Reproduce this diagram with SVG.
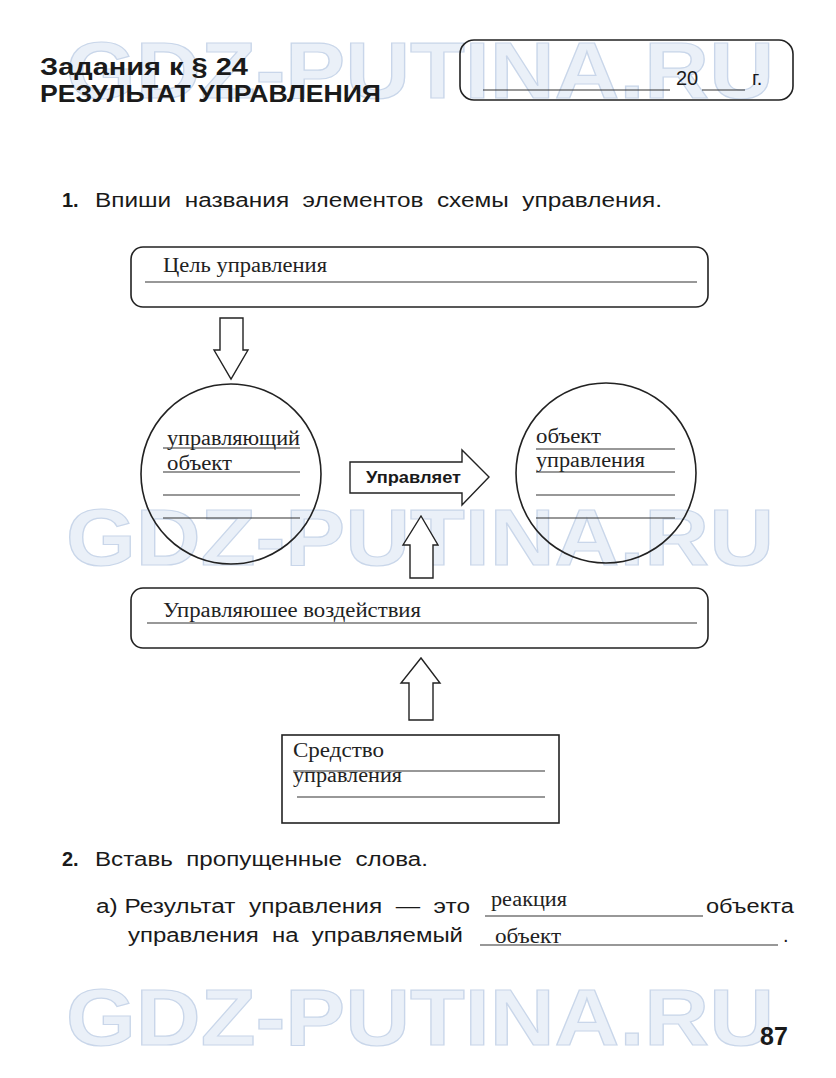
<svg xmlns="http://www.w3.org/2000/svg" width="836" height="1078" viewBox="0 0 836 1078">
<style>
.wm{font-family:"Liberation Sans",Arial,sans-serif;font-weight:bold;font-size:80px;fill:#e6edf7;stroke:#bccde5;stroke-width:1.2;opacity:0.8}
.h{font-family:"Liberation Sans",Arial,sans-serif;font-weight:bold;font-size:23px;fill:#1a1a1a}
.t{font-family:"Liberation Sans",Arial,sans-serif;font-size:20px;fill:#1a1a1a}
.tb{font-family:"Liberation Sans",Arial,sans-serif;font-size:20px;font-weight:bold;fill:#1a1a1a}
.s{font-family:"Liberation Serif","Times New Roman",serif;font-size:20px;fill:#222}
.box{fill:none;stroke:#222;stroke-width:1.6}
.ln{stroke:#333;stroke-width:1.1}
.ar{fill:#fff;stroke:#222;stroke-width:1.4;stroke-linejoin:miter}
</style>
<rect width="836" height="1078" fill="#fff"/>
<g id="watermark">
<text class="wm" x="66" y="98" textLength="708" lengthAdjust="spacingAndGlyphs">GDZ-PUTINA.RU</text>
<text class="wm" x="66" y="565" textLength="708" lengthAdjust="spacingAndGlyphs">GDZ-PUTINA.RU</text>
<text class="wm" x="66" y="1045" textLength="708" lengthAdjust="spacingAndGlyphs">GDZ-PUTINA.RU</text>
</g>
<g id="header">
<text class="h" x="40" y="75" textLength="208" lengthAdjust="spacingAndGlyphs">Задания к § 24</text>
<text class="h" x="40" y="102" textLength="341" lengthAdjust="spacingAndGlyphs">РЕЗУЛЬТАТ УПРАВЛЕНИЯ</text>
</g>
<g id="date-box">
<rect class="box" x="460" y="40" width="333" height="60" rx="14"/>
<line class="ln" x1="483" y1="90" x2="670" y2="90"/>
<text class="t" x="676" y="85" font-size="21">20</text>
<line class="ln" x1="702" y1="90" x2="745" y2="90"/>
<text class="t" x="752" y="85" font-size="17">г.</text>
</g>
<g id="task1">
<text class="tb" x="62" y="207">1.</text>
<text class="t" x="95" y="207" xml:space="preserve" textLength="567" lengthAdjust="spacingAndGlyphs">Впиши  названия  элементов  схемы  управления.</text>
</g>
<g id="goal">
<rect class="box" x="131" y="247" width="577" height="60" rx="12"/>
<text class="s" x="163" y="272" textLength="164" lengthAdjust="spacingAndGlyphs">Цель управления</text>
<line class="ln" x1="145" y1="282" x2="697" y2="282"/>
</g>
<g id="controller">
<circle class="box" cx="231" cy="474" r="90" stroke-width="1.4"/>
<text class="s" x="167" y="445" textLength="133" lengthAdjust="spacingAndGlyphs">управляющий</text>
<text class="s" x="167" y="470" textLength="65" lengthAdjust="spacingAndGlyphs">объект</text>
<line class="ln" x1="163" y1="448" x2="300" y2="448"/>
<line class="ln" x1="163" y1="472" x2="300" y2="472"/>
<line class="ln" x1="163" y1="495" x2="300" y2="495"/>
<line class="ln" x1="163" y1="518" x2="300" y2="518"/>
</g>
<g id="object">
<circle class="box" cx="606" cy="473" r="90" stroke-width="1.4"/>
<text class="s" x="536" y="443" textLength="65" lengthAdjust="spacingAndGlyphs">объект</text>
<text class="s" x="536" y="467" textLength="109" lengthAdjust="spacingAndGlyphs">управления</text>
<line class="ln" x1="536" y1="449" x2="675" y2="449"/>
<line class="ln" x1="536" y1="472" x2="675" y2="472"/>
<line class="ln" x1="536" y1="495" x2="675" y2="495"/>
<line class="ln" x1="536" y1="518" x2="675" y2="518"/>
</g>
<g id="action">
<rect class="box" x="131" y="588" width="577" height="60" rx="12"/>
<text class="s" x="163" y="617" textLength="258" lengthAdjust="spacingAndGlyphs">Управляюшее воздействия</text>
<line class="ln" x1="147" y1="623" x2="697" y2="623"/>
</g>
<g id="means">
<rect class="box" x="282" y="735" width="277" height="88"/>
<text class="s" x="293" y="757" textLength="91" lengthAdjust="spacingAndGlyphs">Средство</text>
<text class="s" x="293" y="782" textLength="109" lengthAdjust="spacingAndGlyphs">управления</text>
<line class="ln" x1="293" y1="771" x2="545" y2="771"/>
<line class="ln" x1="297" y1="797" x2="545" y2="797"/>
</g>
<g id="connectors">
<polygon class="ar" points="220,318 243,318 243,350 248,350 231,379 214,350 220,350"/>
<polygon class="ar" points="350,462 462,462 462,450 489,477 462,505 462,493 350,493"/>
<text x="366" y="483" font-family="Liberation Sans, Arial, sans-serif" font-weight="bold" font-size="16" fill="#1a1a1a" textLength="95" lengthAdjust="spacingAndGlyphs">Управляет</text>
<polygon class="ar" points="410,578 433,578 433,545 438,545 421,516 403,545 410,545"/>
<polygon class="ar" points="409,720 433,720 433,683 440,683 421,658 401,683 409,683"/>
</g>
<g id="task2">
<text class="tb" x="62" y="866">2.</text>
<text class="t" x="95" y="866" xml:space="preserve" textLength="333" lengthAdjust="spacingAndGlyphs">Вставь  пропущенные  слова.</text>
<text class="t" x="96" y="913" xml:space="preserve" textLength="374" lengthAdjust="spacingAndGlyphs">а) Результат  управления  —  это</text>
<text class="s" x="491" y="906" font-size="17" textLength="76" lengthAdjust="spacingAndGlyphs">реакция</text>
<line class="ln" x1="485" y1="916" x2="703" y2="916"/>
<text class="t" x="706" y="913" textLength="88" lengthAdjust="spacingAndGlyphs">объекта</text>
<text class="t" x="128" y="942" xml:space="preserve" textLength="335" lengthAdjust="spacingAndGlyphs">управления  на  управляемый</text>
<text class="s" x="495" y="943" font-size="17" textLength="66" lengthAdjust="spacingAndGlyphs">объект</text>
<line class="ln" x1="480" y1="945" x2="778" y2="945"/>
<text class="t" x="783" y="942">.</text>
</g>
<g id="page">
<text x="760" y="1045" font-family="Liberation Sans, Arial, sans-serif" font-weight="bold" font-size="25" fill="#1a1a1a">87</text>
</g>
</svg>
